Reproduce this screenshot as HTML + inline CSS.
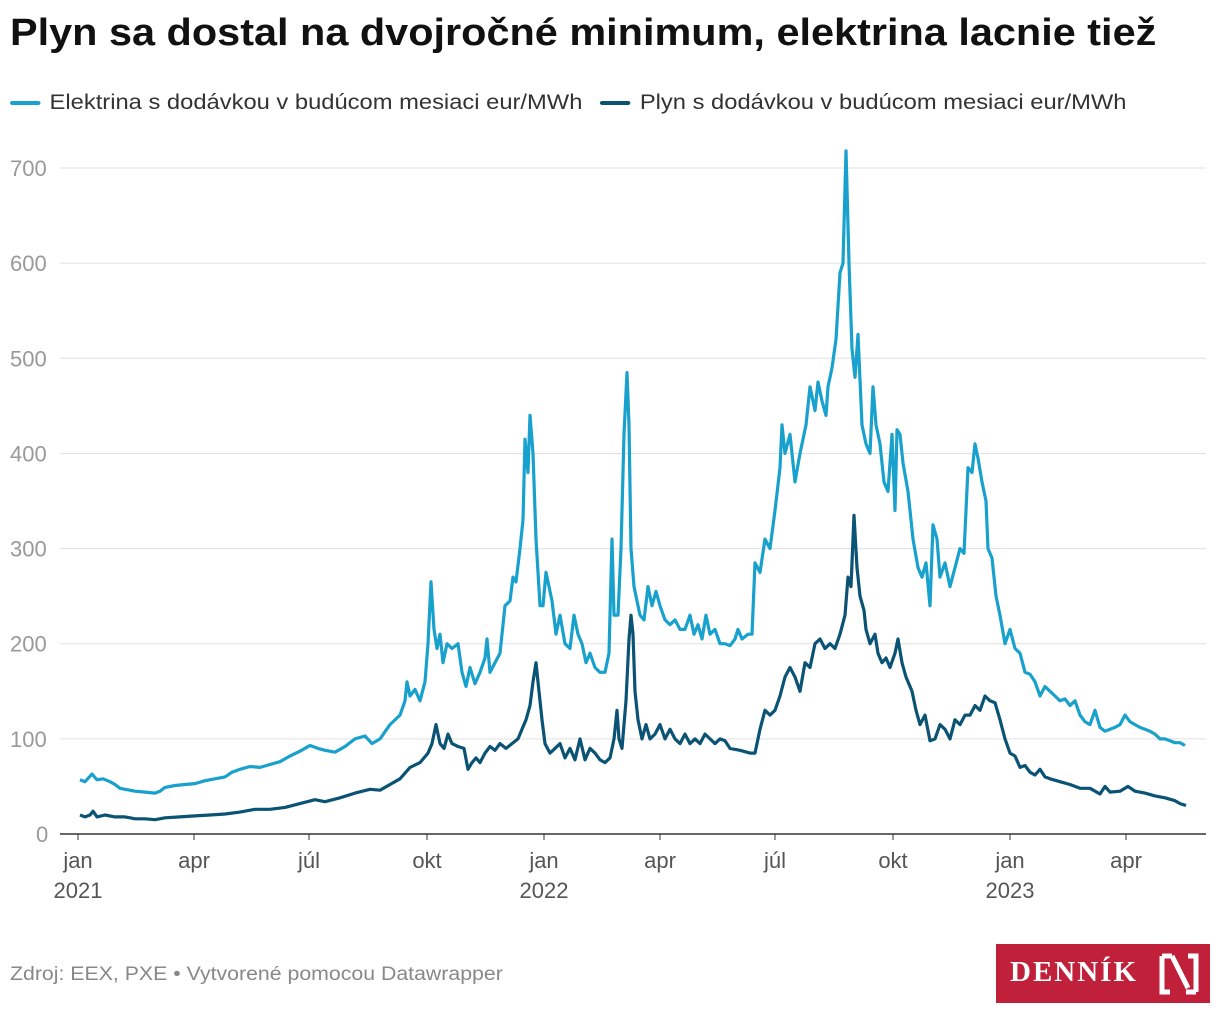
<!DOCTYPE html>
<html><head><meta charset="utf-8"><style>
body{margin:0;width:1220px;height:1020px;background:#fff;font-family:"Liberation Sans",sans-serif;overflow:hidden;position:relative}
.t{position:absolute;white-space:nowrap;transform-origin:0 0}
</style></head><body>
<div class="t" style="left:10px;top:12px;font-size:38px;font-weight:bold;color:#111;transform:scaleX(1.09)">Plyn sa dostal na dvojročné minimum, elektrina lacnie tiež</div>
<div class="t" style="left:10px;top:91px;font-size:21px;color:#333;transform:scaleX(1.13)">
<span style="display:inline-block;width:27px;height:4px;background:#18a1cd;vertical-align:middle;margin-right:8px;border-radius:2px"></span>Elektrina s dodávkou v budúcom mesiaci eur/MWh
<span style="display:inline-block;width:27px;height:4px;background:#0a5374;vertical-align:middle;margin:0 8px 0 10px;border-radius:2px"></span>Plyn s dodávkou v budúcom mesiaci eur/MWh</div>
<svg id="c" width="1220" height="1020" style="position:absolute;left:0;top:0" font-family="Liberation Sans, sans-serif"></svg>
<div class="t" style="left:10px;top:964px;font-size:19px;color:#888;transform:scaleX(1.12)">Zdroj: EEX, PXE • Vytvorené pomocou Datawrapper</div>
<div style="position:absolute;left:996px;top:944px;width:214px;height:59px;background:#c0203a"></div>
<div class="t" style="left:1010px;top:956px;font-size:29px;font-weight:bold;font-family:'Liberation Serif',serif;color:#fff;letter-spacing:2px">DENNÍK</div>
<svg style="position:absolute;left:1158px;top:952px" width="42" height="44"><path d="M4 4h10M4 4v36h8M14 4l16 32M38 40h-10M38 40v-36h-8" stroke="#fff" stroke-width="5" fill="none"/></svg>
<script>
var s=document.getElementById('c'),h='';
function Y(v){return 834-v*0.9514}
for(var v=100;v<=700;v+=100){h+='<line x1="60" x2="1206" y1="'+Y(v)+'" y2="'+Y(v)+'" stroke="#e0e0e0"/>';h+='<text x="10" y="'+(Y(v)+8)+'" font-size="22" fill="#999">'+v+'</text>'}
h+='<text x="36" y="842" font-size="22" fill="#999">0</text><line x1="60" x2="1206" y1="834" y2="834" stroke="#333" stroke-width="1.5"/>';
var xl=[[78,'jan','2021'],[194,'apr'],[309,'júl'],[427,'okt'],[544,'jan','2022'],[660,'apr'],[775,'júl'],[893,'okt'],[1010,'jan','2023'],[1126,'apr']];
xl.forEach(function(a){h+='<line x1="'+a[0]+'" x2="'+a[0]+'" y1="834" y2="840" stroke="#333"/><text x="'+a[0]+'" y="868" font-size="22" fill="#555" text-anchor="middle">'+a[1]+'</text>';if(a[2])h+='<text x="'+(a[0])+'" y="898" font-size="22" fill="#555" text-anchor="middle">'+a[2]+'</text>'});
var e=[80,57,85,55,92,63,97,57,103,58,110,55,115,52,120,48,125,47,135,45,145,44,155,43,160,45,165,49,175,51,185,52,195,53,205,56,215,58,225,60,232,65,240,68,250,71,260,70,270,73,280,76,290,82,300,87,310,93,318,90,325,88,335,86,345,92,355,100,365,103,372,95,380,100,390,115,400,125,405,140,407,160,410,145,415,152,420,140,425,160,428,200,431,265,434,215,437,195,440,210,443,180,447,200,452,195,458,200,462,170,466,155,470,175,475,158,480,170,485,185,487,205,490,170,495,180,500,190,505,240,510,245,513,270,516,265,520,300,523,330,525,415,528,380,530,440,533,400,536,310,540,240,543,240,546,275,549,260,552,245,556,210,560,230,565,200,570,195,574,230,578,210,582,200,586,180,590,190,595,175,600,170,605,170,609,190,612,310,614,230,618,230,621,300,624,420,627,485,629,430,631,300,634,260,637,245,640,230,644,225,648,260,652,240,656,255,660,240,665,225,670,220,675,225,680,215,685,215,690,230,694,210,698,220,702,205,706,230,710,210,715,215,720,200,725,200,730,198,735,205,738,215,742,205,748,210,752,210,755,285,760,275,765,310,770,300,775,340,780,385,782,430,785,400,790,420,795,370,800,400,806,430,810,470,815,445,818,475,822,455,826,440,828,470,832,490,836,520,840,590,843,600,846,718,849,600,852,510,855,480,858,525,862,430,866,410,870,400,873,470,876,430,880,410,884,370,888,360,892,420,895,340,897,425,900,420,903,390,908,360,913,310,918,280,922,270,926,285,930,240,933,325,937,310,940,270,945,285,950,260,955,280,960,300,964,295,968,385,972,380,975,410,978,395,982,370,986,350,988,300,992,290,996,250,1000,230,1005,200,1010,215,1015,195,1020,190,1025,170,1030,168,1035,160,1040,145,1045,155,1050,150,1055,145,1060,140,1065,142,1070,135,1075,140,1080,125,1085,118,1090,115,1095,130,1100,112,1105,108,1110,110,1115,112,1120,115,1125,125,1130,118,1135,115,1140,112,1145,110,1150,108,1155,105,1160,100,1165,100,1170,98,1175,96,1180,96,1185,93];
var p=[80,20,85,18,90,20,93,24,97,18,105,20,115,18,125,18,135,16,145,16,155,15,165,17,180,18,195,19,210,20,225,21,240,23,255,26,270,26,285,28,300,32,315,36,325,34,340,38,355,43,370,47,380,46,390,52,400,58,410,70,420,75,428,85,432,95,436,115,440,95,444,90,448,105,452,95,458,92,464,90,468,68,472,75,476,80,480,75,485,85,490,92,495,88,500,95,506,90,512,95,518,100,522,110,526,120,530,135,533,160,536,180,539,150,542,120,545,95,550,85,555,90,560,95,565,80,570,90,575,78,580,100,585,78,590,90,595,85,600,78,605,75,610,80,614,100,617,130,619,100,622,90,626,140,629,205,631,230,633,210,635,150,638,120,642,100,646,115,650,100,655,105,660,115,665,100,670,110,675,100,680,95,685,105,690,95,695,100,700,95,705,105,710,100,715,95,720,100,725,98,730,90,740,88,750,85,755,85,760,110,765,130,770,125,775,130,780,145,785,165,790,175,795,165,800,150,805,180,810,175,815,200,820,205,825,195,830,200,835,195,840,210,845,230,848,270,851,260,854,335,857,280,860,250,864,235,866,215,870,200,875,210,878,190,882,180,886,185,890,175,895,190,898,205,902,180,906,165,912,150,916,130,920,115,925,125,930,98,935,100,940,115,945,110,950,100,955,120,960,115,965,125,970,125,975,135,980,130,985,145,990,140,995,138,1000,120,1005,100,1010,85,1015,82,1020,70,1025,72,1030,65,1035,62,1040,68,1045,60,1050,58,1060,55,1070,52,1080,48,1090,48,1100,42,1105,50,1110,44,1120,45,1128,50,1135,45,1145,43,1155,40,1165,38,1175,35,1180,32,1186,30];
function pl(a,c){var q=[];for(var i=0;i<a.length;i+=2)q.push(a[i]+','+Y(a[i+1]).toFixed(1));return '<polyline points="'+q.join(' ')+'" fill="none" stroke="'+c+'" stroke-width="3.2" stroke-linejoin="round"/>'}
h+=pl(e,'#18a1cd')+pl(p,'#0a5374');
s.innerHTML=h;
</script>
</body></html>
